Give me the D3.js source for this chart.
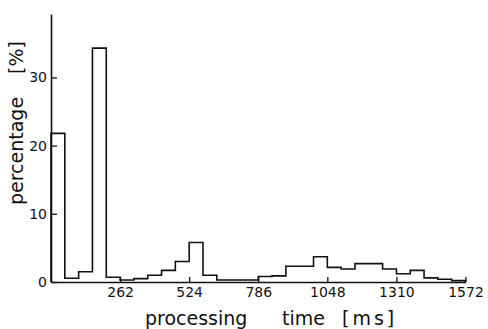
<!DOCTYPE html>
<html>
<head>
<meta charset="utf-8">
<script src="https://cdn.jsdelivr.net/npm/d3@7"></script>
<style>
  body { margin: 0; background: #fff; }
  text { font-family: "DejaVu Sans", sans-serif; fill: #111; }
</style>
</head>
<body>
<div id="chart"></div>
<script>
// processing time histogram
var binWidth = 52.4; // ms
var percentages = [21.8, 0.55, 1.5, 34.3, 0.7, 0.3, 0.5, 1.0, 1.7, 3.0,
                   5.8, 1.0, 0.3, 0.3, 0.3, 0.8, 0.9, 2.3, 2.3, 3.7,
                   2.15, 1.9, 2.7, 2.7, 1.9, 1.2, 1.7, 0.6, 0.4, 0.2];
var xTicks = [262, 524, 786, 1048, 1310, 1572];
var yTicks = [0, 10, 20, 30];

var svgWidth = 488;
var svgHeight = 329;

var svg = d3.select("#chart")
  .append("svg")
  .attr("width", svgWidth)
  .attr("height", svgHeight);

// scales
var x = d3.scaleLinear().domain([0, 1572]).range([51, 465.5]);
var y = d3.scaleLinear().domain([0, 39.3]).range([282, 14]);

// axes
var xAxis = d3.axisBottom(x)
  .tickValues(xTicks)
  .tickSizeInner(-5)
  .tickSizeOuter(0)
  .tickPadding(5)
  .tickFormat(d3.format("d"));
var yAxis = d3.axisLeft(y)
  .tickValues(yTicks)
  .tickSizeInner(-6)
  .tickSizeOuter(0)
  .tickPadding(4);

var gx = svg.append("g")
  .attr("transform", `translate(0, ${y(0)})`)
  .call(xAxis);
var gy = svg.append("g")
  .attr("transform", `translate(${x(0)}, 0)`)
  .call(yAxis);

[gx, gy].forEach(function(g) {
  g.select(".domain").attr("stroke", "#111").attr("stroke-width", 1.6);
  g.selectAll(".tick line").attr("stroke", "#111").attr("stroke-width", 1.3);
  g.selectAll(".tick text")
    .attr("font-family", "DejaVu Sans, sans-serif")
    .attr("font-size", 14)
    .attr("fill", "#111");
});

// histogram outline
var points = [[0, 0]];
percentages.forEach(function(v, i) { points.push([i * binWidth, v]); });
points.push([percentages.length * binWidth, 0]);

var line = d3.line()
  .x(d => x(d[0]))
  .y(d => y(d[1]))
  .curve(d3.curveStepAfter);

svg.append("path")
  .datum(points)
  .attr("d", line)
  .attr("fill", "none")
  .attr("stroke", "#111")
  .attr("stroke-width", 1.6);

// axis titles
svg.append("text")
  .attr("transform", "translate(22.5, 151) rotate(-90)")
  .attr("text-anchor", "middle")
  .attr("font-size", 19)
  .text("percentage");
svg.append("text")
  .attr("transform", "translate(22.5, 57.5) rotate(-90)")
  .attr("text-anchor", "middle")
  .attr("font-size", 19)
  .text("[%]");

svg.append("text")
  .attr("x", 145).attr("y", 325)
  .attr("font-size", 19)
  .text("processing");
svg.append("text")
  .attr("x", 282).attr("y", 325)
  .attr("font-size", 19)
  .text("time");
svg.append("text")
  .attr("x", 342).attr("y", 325)
  .attr("font-size", 19)
  .attr("letter-spacing", 3)
  .text("[ms]");
</script>
</body>
</html>
